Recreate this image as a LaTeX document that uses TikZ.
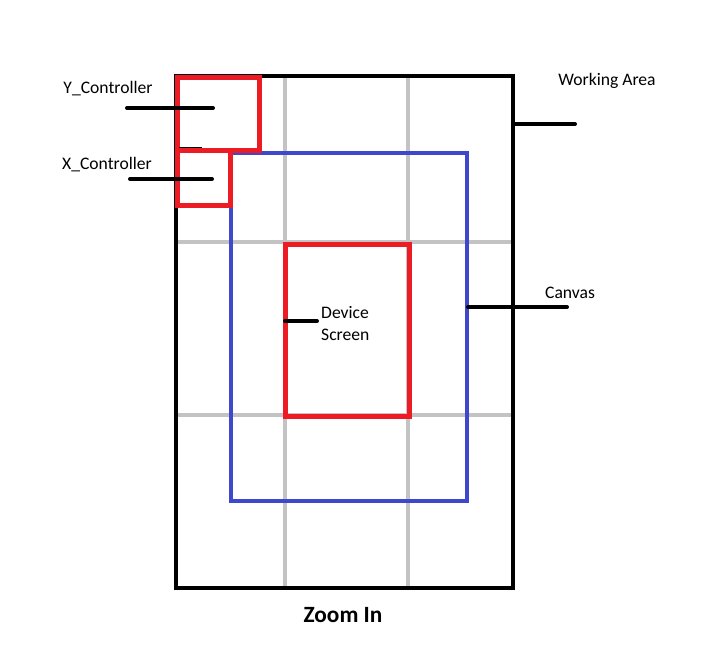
\documentclass[tikz,border=0pt]{standalone}
\usepackage{fontspec}
\setmainfont{Carlito}
\definecolor{pred}{RGB}{237,28,36}
\definecolor{pblue}{RGB}{63,72,204}
\definecolor{pgray}{RGB}{195,195,195}
\tikzset{
  gridline/.style={draw=pgray,line width=4pt},
  blackbox/.style={draw=black,line width=4pt},
  bluebox/.style={draw=pblue,line width=4pt},
  redbox/.style={draw=pred,line width=5pt},
  leader/.style={draw=black,line width=4pt,line cap=round},
  lbl/.style={inner sep=0pt,font=\fontsize{17.6}{22}\selectfont},
}
\begin{document}
\begin{tikzpicture}[x=1pt,y=-1pt]
\useasboundingbox (0,0) rectangle (719,652);
\fill[white] (0,0) rectangle (719,652);
% grid
\coordinate (g1t) at (285,76); \coordinate (g1b) at (285,588);
\coordinate (g2t) at (408,76); \coordinate (g2b) at (408,588);
\coordinate (h1l) at (176,242); \coordinate (h1r) at (513,242);
\coordinate (h2l) at (176,415); \coordinate (h2r) at (513,415);
\draw[gridline] (g1t) -- (g1b);
\draw[gridline] (g2t) -- (g2b);
\draw[gridline] (h1l) -- (h1r);
\draw[gridline] (h2l) -- (h2r);
% working area
\coordinate (waTL) at (176,76); \coordinate (waBR) at (513,588);
\draw[blackbox] (waTL) rectangle (waBR);
% canvas
\coordinate (cvTL) at (231,153); \coordinate (cvBR) at (467,501);
\draw[bluebox] (cvTL) rectangle (cvBR);
% device screen
\coordinate (dsTL) at (285,244); \coordinate (dsBR) at (409,416);
\draw[redbox] (dsTL) rectangle (dsBR);
% controllers
\coordinate (ycTL) at (177,78); \coordinate (ycBR) at (259,151);
\draw[redbox] (ycTL) rectangle (ycBR);
\coordinate (xcTL) at (177,151); \coordinate (xcBR) at (230,206);
\draw[redbox] (xcTL) rectangle (xcBR);
\coordinate (tk1) at (179,148); \coordinate (tk2) at (202,148);
\draw[black,line width=1pt] (tk1) -- (tk2);
% labels
\node[lbl] (ylab) at (108,89) {Y\_Controller};
\node[lbl] (xlab) at (107,165) {X\_Controller};
\node[lbl] (walab) at (607,81) {Working Area};
\node[lbl] (cvlab) at (570,293) {Canvas};
\node[lbl,anchor=west,align=left] (dslab) at (321,324) {Device\\Screen};
\node[inner sep=0pt,font=\fontsize{23.3}{26}\selectfont\bfseries] (zoom) at (343,615) {Zoom In};
% leaders
\coordinate (yl1) at (127,108); \coordinate (yl2) at (213,108);
\draw[leader] (yl1) -- (yl2);
\coordinate (xl1) at (130,179); \coordinate (xl2) at (212,179);
\draw[leader] (xl1) -- (xl2);
\coordinate (wl1) at (513,124); \coordinate (wl2) at (575,124);
\draw[leader] (wl1) -- (wl2);
\coordinate (cl1) at (468,307); \coordinate (cl2) at (567,307);
\draw[leader] (cl1) -- (cl2);
\coordinate (dl1) at (285,321); \coordinate (dl2) at (317,321);
\draw[leader] (dl1) -- (dl2);
\end{tikzpicture}
\end{document}
